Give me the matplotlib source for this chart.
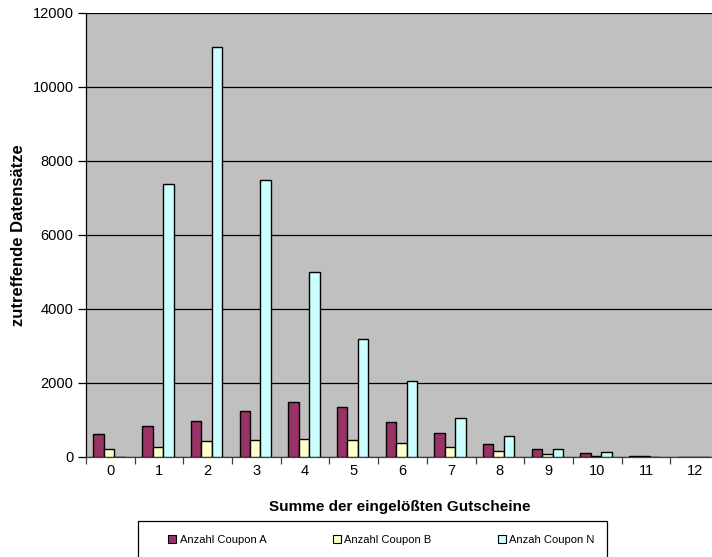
import matplotlib
matplotlib.use("Agg")
import matplotlib.pyplot as plt
from matplotlib.patches import Rectangle, Patch
import numpy as np

plt.rcParams['font.family'] = ['Liberation Sans', 'DejaVu Sans']

categories = [str(i) for i in range(13)]
coupon_a = [630, 850, 965, 1230, 1490, 1350, 940, 650, 350, 210, 100, 35, 0]
coupon_b = [210, 265, 445, 470, 500, 470, 390, 270, 155, 90, 40, 15, 0]
coupon_n = [0, 7370, 11075, 7490, 4990, 3180, 2050, 1050, 560, 210, 125, 10, 0]
series_labels = ["Anzahl Coupon A", "Anzahl Coupon B", "Anzah Coupon N"]
colors = ["#993366", "#FFFFCC", "#CCFFFF"]
y_ticks = [0, 2000, 4000, 6000, 8000, 10000, 12000]

W, H = 712, 557
fig = plt.figure(figsize=(W / 100, H / 100), dpi=100)
fig.patch.set_facecolor("white")

# plot area in pixel coordinates (the right edge runs slightly past the canvas)
left_px, right_px, top_px, bottom_px = 86, 719, 13, 457
ax = fig.add_axes([left_px / W, (H - bottom_px) / H,
                   (right_px - left_px) / W, (bottom_px - top_px) / H])
ax.set_facecolor("#C0C0C0")

x = np.arange(len(categories))
width = 0.215
offsets = [-0.24, -0.025, 0.19]
for vals, off, col, lab in zip([coupon_a, coupon_b, coupon_n], offsets, colors, series_labels):
    ax.bar(x + off, vals, width=width, color=col, edgecolor="black",
           linewidth=1.0, label=lab, zorder=3)

ax.set_xlim(-0.5, len(categories) - 0.5)
ax.set_ylim(0, 12000)
ax.set_yticks(y_ticks)
ax.set_yticklabels([str(v) for v in y_ticks], fontsize=10.5)
ax.yaxis.grid(True, color="black", linewidth=0.9, zorder=1)
ax.set_axisbelow(True)

# category labels centered, tick marks on the category boundaries
ax.set_xticks(x)
ax.set_xticklabels(categories, fontsize=10.5)
ax.tick_params(axis="x", which="major", length=0, pad=5)
ax.set_xticks(np.arange(-0.5, len(categories) + 0.5, 1), minor=True)
ax.tick_params(axis="x", which="minor", length=5, color="#404040", width=0.9)
ax.tick_params(axis="y", length=6, width=0.9, pad=3)

for side in ["top", "right"]:
    ax.spines[side].set_visible(False)
ax.spines["left"].set_color("black")
ax.spines["left"].set_linewidth(0.9)
ax.spines["bottom"].set_color("#404040")
ax.spines["bottom"].set_linewidth(0.9)

ax.set_ylabel("zutreffende Datensätze", fontsize=12, fontweight="bold")
ax.yaxis.set_label_coords(-(left_px - 18) / (right_px - left_px), 0.5)
ax.yaxis.label.set_va("center")
fig.text(400 / W, (H - 507) / H, "Summe der eingelößten Gutscheine",
         fontsize=11, fontweight="bold", ha="center", va="center")

# legend box, open at the bottom of the canvas
fig.patches.append(Rectangle((138 / W, -0.05), (607 - 138) / W, (H - 521) / H + 0.05,
                             transform=fig.transFigure, facecolor="white",
                             edgecolor="black", linewidth=0.9, zorder=0))
handles = [Patch(facecolor=c, edgecolor="black", linewidth=0.8) for c in colors]
fig.legend(handles, series_labels, loc="center left", ncol=3, frameon=False,
           bbox_to_anchor=(164 / W, (H - 540) / H), fontsize=8,
           handlelength=0.7, handleheight=0.7, handletextpad=0.3,
           columnspacing=6.0, borderaxespad=0)

fig.savefig("out.png", dpi=100, facecolor="white")
